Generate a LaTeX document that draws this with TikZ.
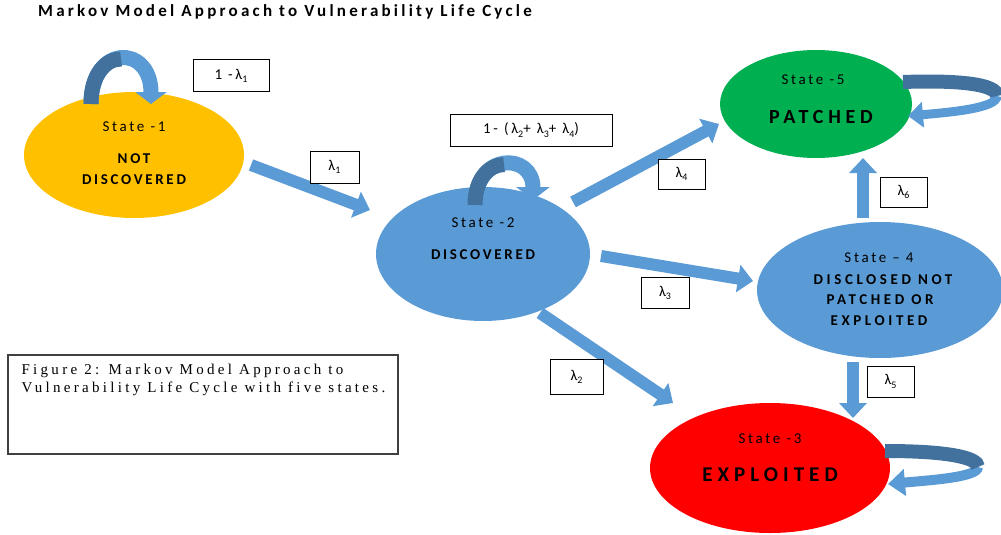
\documentclass[tikz,border=0pt]{standalone}
\usepackage{fontspec}
\setmainfont{Carlito}
\newfontfamily\statefont{Carlito}[LetterSpace=18]
\newfontfamily\widefont{Carlito}[LetterSpace=24]
\newfontfamily\titlefont{Carlito}[LetterSpace=19]
\newfontfamily\capfont{Liberation Serif}[LetterSpace=22]
\usetikzlibrary{shapes.geometric,arrows.meta,calc}

\definecolor{stOrange}{HTML}{FFC000}
\definecolor{stBlue}{HTML}{5B9BD5}
\definecolor{stGreen}{HTML}{00B050}
\definecolor{stRed}{HTML}{FF0000}
\definecolor{arBlue}{HTML}{5B9BD5}
\definecolor{arDark}{HTML}{41719C}

% small lowered index after a lambda
\newcommand\lsub[1]{\raisebox{-0.45ex}{\fontsize{10}{10}\selectfont #1}}

\begin{document}
\begin{tikzpicture}[x=1pt,y=-1pt,
  state/.style={ellipse,draw=none,inner sep=0pt},
  stxt/.style={font=\statefont\fontsize{15}{15}\selectfont,inner sep=0pt},
  sbold/.style={font=\statefont\bfseries\fontsize{15}{15}\selectfont,inner sep=0pt},
  swide/.style={font=\widefont\bfseries\fontsize{15}{15}\selectfont,inner sep=0pt},
  sbig/.style={font=\widefont\bfseries\fontsize{20}{20}\selectfont,inner sep=0pt},
  blockarrow/.style={draw=arBlue,line width=12pt,-{Triangle[width=27pt,length=15pt]}},
  loopband/.style={draw=arBlue},
  loopdark/.style={draw=arDark},
  lbl/.style={draw=black,fill=white,line width=1pt,inner sep=0pt,
    font=\statefont\fontsize{15}{15}\selectfont},
]
\useasboundingbox (0,0) rectangle (1001,535);

% title
\node[anchor=west,inner sep=0pt,font=\titlefont\bfseries\fontsize{17}{17}\selectfont]
  (title) at (38,12) {Markov Model Approach to Vulnerability Life Cycle};

% states
\node[state,fill=stOrange,minimum width=220,minimum height=126] (s1) at (134,155) {};
\node[state,fill=stBlue,minimum width=214,minimum height=134] (s2) at (483,254) {};
\node[state,fill=stGreen,minimum width=192,minimum height=108] (s5) at (816,104) {};
\node[state,fill=stBlue,minimum width=246,minimum height=136] (s4) at (880,290) {};
\node[state,fill=stRed,minimum width=240,minimum height=130] (s3) at (770,468) {};

% state texts
\node[stxt] (s1a) at ($(s1)+(0,-28)$) {State -1};
\node[sbold] (s1b) at ($(s1)+(0,4)$) {NOT};
\node[sbold] (s1c) at ($(s1)+(0,25)$) {DISCOVERED};

\node[stxt] (s2a) at ($(s2)+(0,-31)$) {State -2};
\node[sbold] (s2b) at ($(s2)+(0,1)$) {DISCOVERED};

\node[stxt] (s5a) at ($(s5)+(-3,-24)$) {State -5};
\node[sbig] (s5b) at ($(s5)+(5,13)$) {PATCHED};

\node[stxt] (s4a) at ($(s4)+(-1,-32)$) {State – 4};
\node[swide] (s4b) at ($(s4)+(3,-10)$) {DISCLOSED NOT};
\node[swide] (s4c) at ($(s4)+(0,10)$) {PATCHED OR};
\node[swide] (s4d) at ($(s4)+(-1,31)$) {EXPLOITED};

\node[stxt] (s3a) at ($(s3)+(0,-29)$) {State -3};
\node[sbig,font=\widefont\bfseries\fontsize{21}{21}\selectfont] (s3b) at ($(s3)+(0,7)$) {EXPLOITED};

% transitions between states
\draw[blockarrow] ($(s1.center)+(117,10)$) -- ($(s2.center)+(-113,-44)$);
\draw[blockarrow] ($(s2.center)+(90,-52)$) -- ($(s5.center)+(-97,20)$);
\draw[blockarrow] ($(s2.center)+(118,2)$) -- ($(s4.center)+(-127,-9)$);
\draw[blockarrow] ($(s2.center)+(57,59)$) -- ($(s3.center)+(-97,-65)$);
\draw[blockarrow] ($(s4.center)+(-17,-72)$) -- ($(s5.center)+(47,54)$);
\draw[blockarrow] ($(s4.center)+(-27,72)$) -- ($(s3.center)+(83,-50)$);

% self loops above state 1 and state 2
\coordinate (l1a) at ($(s1.center)+(-43,-51)$);
\coordinate (l1b) at ($(s1.center)+(17,-51)$);
\draw[loopband,line width=15pt,-{Triangle[width=31pt,length=12pt]}]
  (l1a) .. controls +(0,-60) and +(0,-60) .. (l1b);
\draw[loopdark,line width=15pt]
  (l1a) .. controls +(0,-30) and +(-15,0) .. ($(l1a)+(30,-45)$);

\coordinate (l2a) at ($(s2.center)+(-8,-49)$);
\coordinate (l2b) at ($(s2.center)+(50,-54)$);
\draw[loopband,line width=15pt,-{Triangle[width=33pt,length=13pt]}]
  (l2a) .. controls +(0,-53) and +(0,-48) .. (l2b);
\draw[loopdark,line width=15pt]
  (l2a) .. controls +(0,-26.5) and +(-14.5,0) .. ($(l2a)+(29,-40.4)$);

% self loops right of state 5 and state 3
\coordinate (l5a) at ($(s5.center)+(87,-22)$);
\coordinate (l5m) at ($(s5.center)+(181,-8)$);
\coordinate (l5b) at ($(s5.center)+(92,12)$);
\draw[loopband,line width=9pt,-{Triangle[width=25pt,length=15pt]}]
  (l5m) .. controls +(0,12) and +(45,-4) .. (l5b);
\draw[loopdark,line width=14pt]
  (l5a) .. controls +(55,-2) and +(0,-12) .. (l5m);

\coordinate (l3a) at ($(s3.center)+(115,-17)$);
\coordinate (l3m) at ($(s3.center)+(208,-1)$);
\coordinate (l3b) at ($(s3.center)+(118,16)$);
\draw[loopband,line width=10pt,-{Triangle[width=26pt,length=17pt]}]
  (l3m) .. controls +(0,10) and +(45,-4) .. (l3b);
\draw[loopdark,line width=14pt]
  (l3a) .. controls +(60,0) and +(0,-10) .. (l3m);

% transition rate labels
\node[lbl,minimum width=76,minimum height=31] (r11) at (231,75.5) {1 -λ\lsub{1}};
\node[lbl,minimum width=162,minimum height=32] (r22) at (531,130) {1- (λ\lsub{2}+ λ\lsub{3}+ λ\lsub{4})};
\node[lbl,minimum width=49,minimum height=32] (r1) at (334.5,167) {λ\lsub{1}};
\node[lbl,minimum width=47,minimum height=30] (r4) at (681.5,174) {λ\lsub{4}};
\node[lbl,minimum width=48,minimum height=31] (r3) at (665,293) {λ\lsub{3}};
\node[lbl,minimum width=53,minimum height=35] (r2) at (576.5,376.5) {λ\lsub{2}};
\node[lbl,minimum width=47,minimum height=30] (r6) at (903.5,192) {λ\lsub{6}};
\node[lbl,minimum width=47,minimum height=31] (r5) at (890.5,381.5) {λ\lsub{5}};

% caption box
\node[draw=black!75,line width=1.2pt,minimum width=390,minimum height=99,inner sep=0pt]
  (cap) at (203,404.5) {};
\node[anchor=north west,inner sep=0pt,align=left,
  font=\capfont\fontsize{15}{18.5}\selectfont]
  (capt) at ($(cap.north west)+(14,9)$)
  {Figure 2: Markov Model Approach to\\ Vulnerability Life Cycle with five states.};
\end{tikzpicture}
\end{document}
